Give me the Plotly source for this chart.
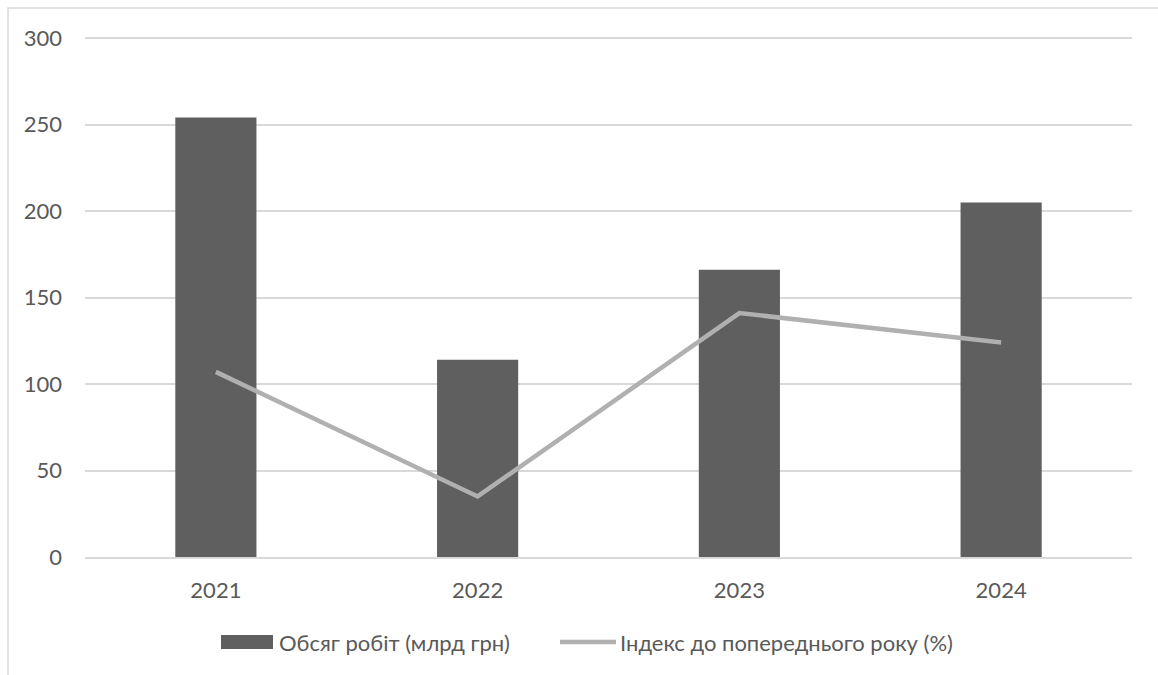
import plotly.graph_objects as go

# Data
years = ["2021", "2022", "2023", "2024"]
volume = [254, 114, 166, 205]          # Обсяг робіт (млрд грн)
index_prev = [107, 35, 141, 124]       # Індекс до попереднього року (%)

bar_name = "Обсяг робіт (млрд грн)"
line_name = "Індекс до попереднього року (%)"

W, H = 1158, 675
L, R, T, B = 85, 26, 37, 118
PW, PH = W - L - R, H - T - B

def px(x):
    return (x - L) / PW

def py(y):
    return (H - B - y) / PH

BAR_COLOR = "#5f5f5f"
LINE_COLOR = "#b0b0b0"
GRID = "#d9d9d9"
TEXT = "#595959"
FONT = "Lato"
FS = 22

fig = go.Figure()
fig.add_trace(go.Bar(x=years, y=volume, name=bar_name,
                     marker=dict(color=BAR_COLOR, line=dict(width=0)),
                     showlegend=False))
fig.add_trace(go.Scatter(x=years, y=index_prev, name=line_name, mode="lines",
                         line=dict(color=LINE_COLOR, width=4.5),
                         showlegend=False))

shapes = [
    # chart border
    dict(type="rect", xref="paper", yref="paper",
         x0=px(8), x1=px(W + 20), y0=py(H + 20), y1=py(8),
         line=dict(color=GRID, width=1.5), fillcolor="rgba(0,0,0,0)", layer="below"),
    # legend swatches
    dict(type="rect", xref="paper", yref="paper",
         x0=px(221), x1=px(273), y0=py(649), y1=py(635),
         line=dict(width=0), fillcolor=BAR_COLOR),
    dict(type="line", xref="paper", yref="paper",
         x0=px(560), x1=px(616), y0=py(642), y1=py(642),
         line=dict(color=LINE_COLOR, width=4.5)),
]

annotations = [
    dict(text=bar_name, xref="paper", yref="paper", x=px(277), y=py(642),
         xanchor="left", yanchor="middle", showarrow=False,
         font=dict(family=FONT, size=FS, color=TEXT)),
    dict(text=line_name, xref="paper", yref="paper", x=px(618), y=py(642),
         xanchor="left", yanchor="middle", showarrow=False,
         font=dict(family=FONT, size=FS, color=TEXT)),
]

fig.update_layout(
    width=W, height=H,
    margin=dict(l=L, r=R, t=T, b=B, autoexpand=False),
    paper_bgcolor="white", plot_bgcolor="white",
    bargap=0.69,
    font=dict(family=FONT, size=FS, color=TEXT),
    shapes=shapes, annotations=annotations,
    showlegend=False,
)
fig.update_xaxes(showgrid=False, showline=True, linecolor=GRID, linewidth=1.5,
                 ticks="", ticklabelstandoff=13,
                 tickfont=dict(family=FONT, size=FS, color=TEXT))
fig.update_yaxes(range=[0, 300.6], tickvals=[0, 50, 100, 150, 200, 250, 300],
                 showgrid=True, gridcolor=GRID, gridwidth=1.5,
                 zeroline=False, showline=False, ticks="", ticklabelstandoff=22,
                 tickfont=dict(family=FONT, size=FS, color=TEXT))

fig.write_html("out.html")
